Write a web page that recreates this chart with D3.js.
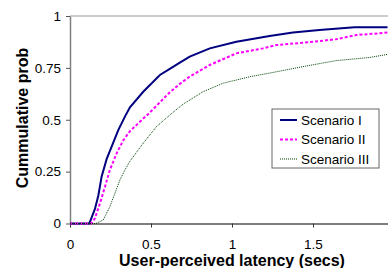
<!DOCTYPE html>
<html>
<head>
<meta charset="utf-8">
<script src="https://cdn.jsdelivr.net/npm/d3@7"></script>
<style>
  body { margin: 0; background: #fff; }
  text { font-family: "Liberation Sans", Arial, sans-serif; }
</style>
</head>
<body>
<div id="chart"></div>
<script>
const xTicks = [0, 0.5, 1, 1.5];
const yTicks = [0, 0.25, 0.5, 0.75, 1];
const yTickLabels = ["0", "0.25", "0.5", "0.75", "1"];
const seriesNames = ["Scenario I", "Scenario II", "Scenario III"];

// latency (secs), cumulative prob
const scenario1 = [[0, 0], [0.118, 0], [0.128, 0.017], [0.154, 0.07], [0.175, 0.135], [0.195, 0.226],
  [0.226, 0.31], [0.267, 0.39], [0.298, 0.45], [0.339, 0.515], [0.37, 0.56], [0.452, 0.635],
  [0.555, 0.716], [0.616, 0.745], [0.678, 0.775], [0.739, 0.804], [0.863, 0.844], [1.027, 0.876],
  [1.232, 0.904], [1.376, 0.92], [1.54, 0.933], [1.756, 0.946], [1.96, 0.946]];
const scenario2 = [[0, 0], [0.13, 0], [0.154, 0.025], [0.185, 0.097], [0.216, 0.177], [0.246, 0.258],
  [0.288, 0.338], [0.328, 0.4], [0.37, 0.445], [0.431, 0.49], [0.493, 0.535], [0.575, 0.6],
  [0.616, 0.632], [0.678, 0.673], [0.739, 0.708], [0.863, 0.764], [1.027, 0.82], [1.191, 0.844],
  [1.273, 0.86], [1.437, 0.871], [1.643, 0.888], [1.766, 0.908], [1.96, 0.92]];
const scenario3 = [[0, 0], [0.16, 0], [0.205, 0.017], [0.246, 0.081], [0.277, 0.145], [0.308, 0.21],
  [0.339, 0.258], [0.37, 0.3], [0.452, 0.387], [0.534, 0.467], [0.616, 0.523], [0.698, 0.575],
  [0.821, 0.635], [0.945, 0.676], [1.109, 0.707], [1.273, 0.731], [1.437, 0.756], [1.643, 0.785],
  [1.848, 0.8], [1.96, 0.815]];

const seriesData = [scenario1, scenario2, scenario3];
const colors = ["#000080", "#ff00ff", "#004000"];
const dashes = [null, "3,2", "1,1"];
const widths = [2, 2, 1];

const width = 388, height = 268;
const margin = {top: 16, left: 70, bottom: 44};

const xScale = d3.scaleLinear().domain([0, 2]).range([margin.left, 394]);
const yScale = d3.scaleLinear().domain([0, 1]).range([height - margin.bottom - 0.5, margin.top]);

const svg = d3.select("#chart").append("svg")
  .attr("width", width)
  .attr("height", height);

// top gridline at 1
svg.append("line")
  .attr("x1", xScale(0)).attr("x2", width)
  .attr("y1", yScale(1)).attr("y2", yScale(1))
  .attr("stroke", "#999").attr("stroke-width", 1);

// y axis
const yAxis = d3.axisLeft(yScale)
  .tickValues(yTicks)
  .tickFormat((d, i) => yTickLabels[i])
  .tickSize(4)
  .tickSizeOuter(0);
const gy = svg.append("g")
  .attr("transform", `translate(${margin.left},0)`)
  .call(yAxis);
gy.select(".domain").attr("stroke", "#808080").attr("stroke-width", 1.5);
gy.selectAll(".tick line").attr("stroke", "#555");
gy.selectAll(".tick text").attr("font-size", 13.5).attr("fill", "#000").attr("x", -9)
  .attr("font-family", "Liberation Sans, Arial, sans-serif");

// x axis
const xAxis = d3.axisBottom(xScale)
  .tickValues(xTicks)
  .tickFormat(d3.format("~g"))
  .tickSize(4)
  .tickSizeOuter(0);
const gx = svg.append("g")
  .attr("transform", `translate(0,${yScale(0)})`)
  .call(xAxis);
gx.select(".domain").attr("stroke", "#000").attr("stroke-width", 1.2);
gx.selectAll(".tick line").attr("stroke", "#333");
gx.selectAll(".tick text").attr("font-size", 13.5).attr("fill", "#000").attr("y", 16)
  .attr("font-family", "Liberation Sans, Arial, sans-serif");

const line = d3.line()
  .x(d => xScale(d[0]))
  .y(d => yScale(d[1]));

seriesData.forEach((data, i) => {
  svg.append("path")
    .attr("d", line(data))
    .attr("fill", "none")
    .attr("stroke", colors[i])
    .attr("stroke-width", widths[i])
    .attr("stroke-dasharray", dashes[i]);
});

// axis titles
svg.append("text")
  .attr("transform", "translate(28,118) rotate(-90)")
  .attr("text-anchor", "middle")
  .attr("font-size", 16)
  .attr("font-weight", "bold")
  .text("Cummulative prob");

svg.append("text")
  .attr("x", 232)
  .attr("y", 266)
  .attr("text-anchor", "middle")
  .attr("font-size", 16)
  .attr("font-weight", "bold")
  .text("User-perceived latency (secs)");

// legend
const legend = svg.append("g").attr("transform", "translate(272,109)");
legend.append("rect")
  .attr("width", 107).attr("height", 59)
  .attr("fill", "#fff").attr("stroke", "#666").attr("stroke-width", 1);
seriesNames.forEach((name, i) => {
  const y = 11 + i * 19.5;
  legend.append("line")
    .attr("x1", 8).attr("x2", 25)
    .attr("y1", y).attr("y2", y)
    .attr("stroke", colors[i])
    .attr("stroke-width", widths[i])
    .attr("stroke-dasharray", dashes[i]);
  legend.append("text")
    .attr("x", 29).attr("y", y + 4.5)
    .attr("font-size", 13.5)
    .text(name);
});
</script>
</body>
</html>
